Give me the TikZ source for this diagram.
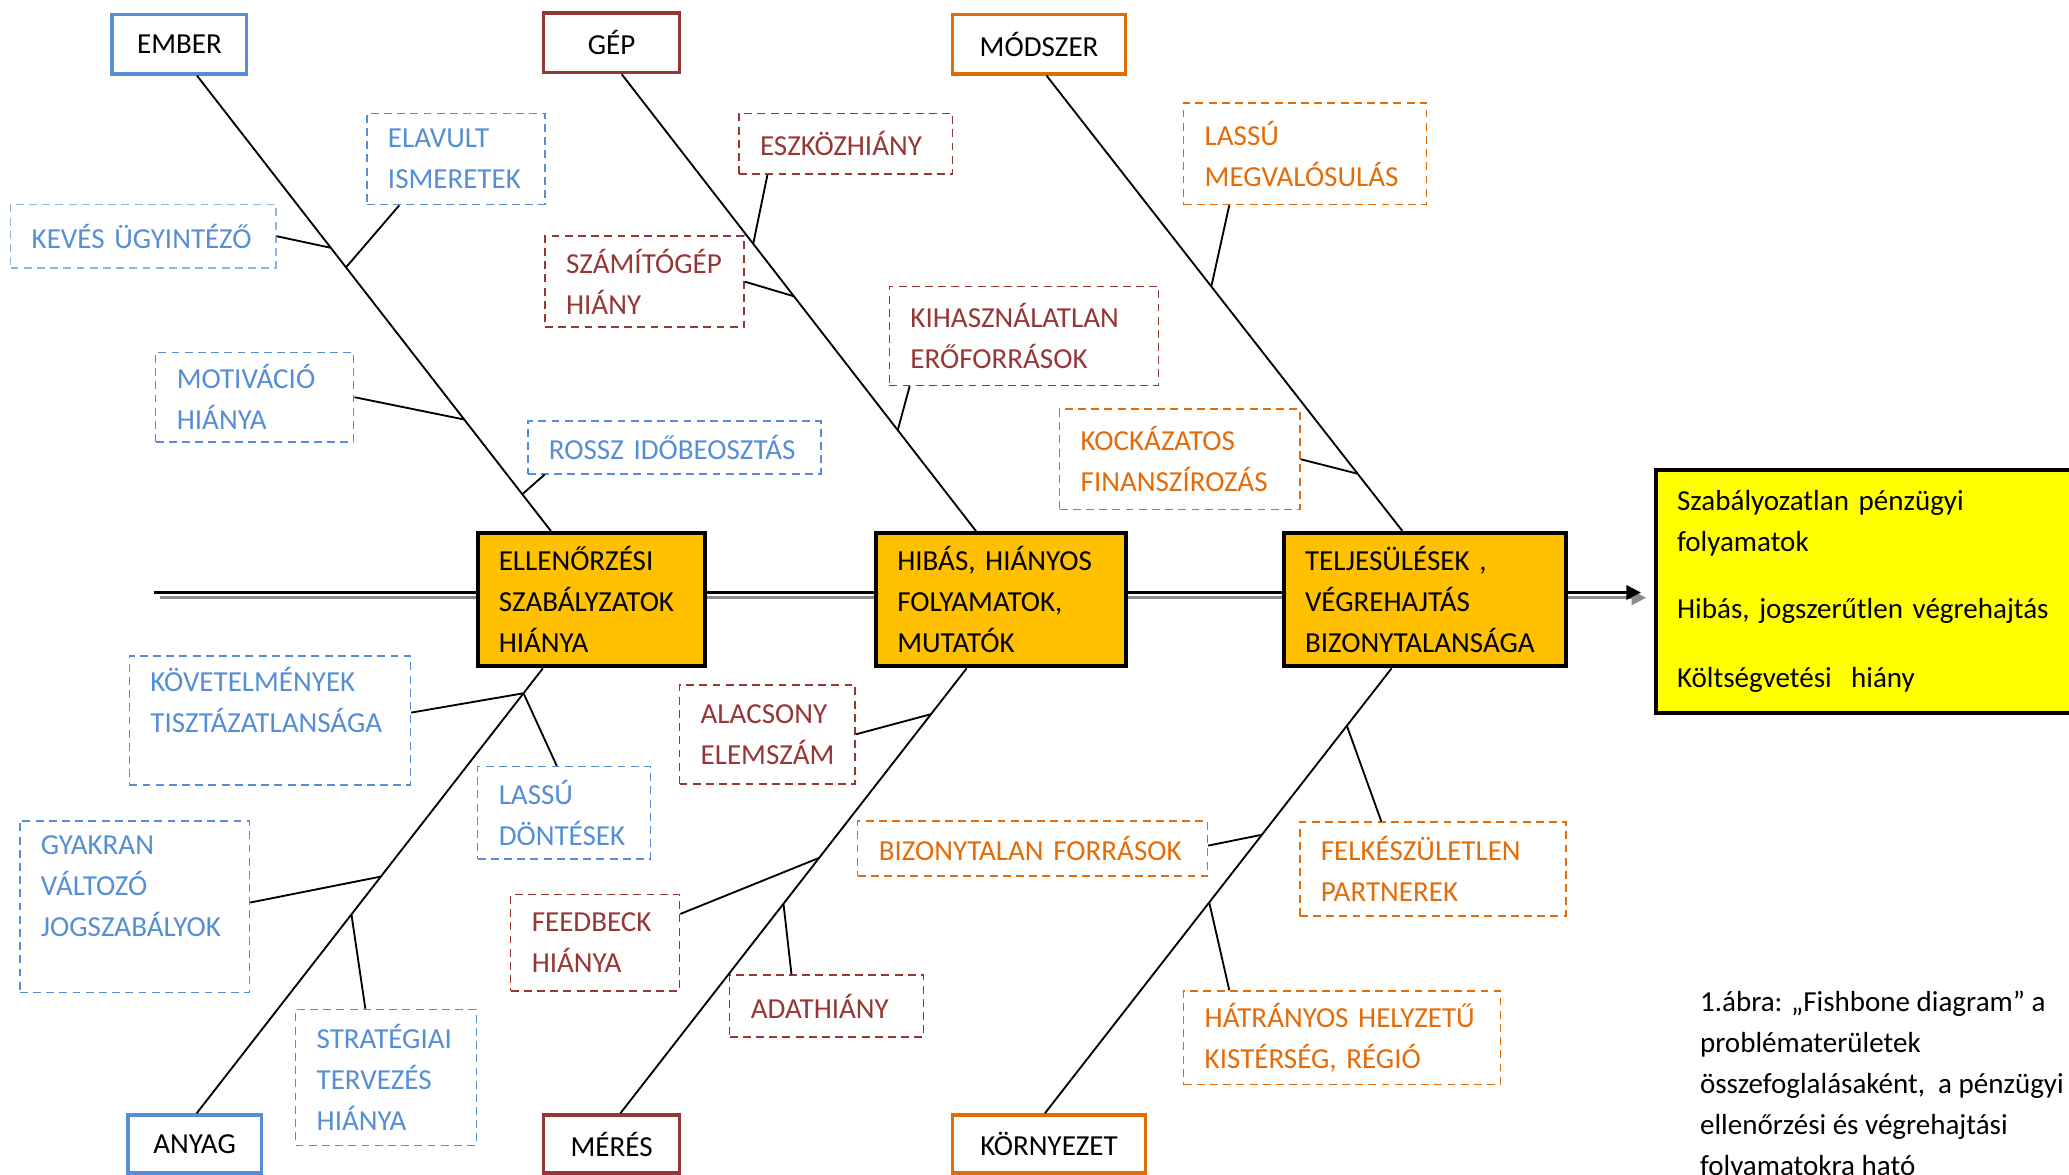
\documentclass[tikz,border=0pt]{standalone}
\usepackage{fontspec}
\setmainfont{Carlito}
\usetikzlibrary{calc,arrows.meta}
\definecolor{cblue}{HTML}{558ED5}
\definecolor{cblueL}{HTML}{8DB3E2}
\definecolor{cred}{HTML}{953735}
\definecolor{corange}{HTML}{E36C09}
\definecolor{cgold}{HTML}{FFC000}
\definecolor{cyell}{HTML}{FFFF00}
\definecolor{cgray}{HTML}{8C8C8C}
\newcommand\mkbox[7]{%
  \pgfmathsetmacro\mbW{(#5-#3)*0.5}%
  \pgfmathsetmacro\mbH{(#6-#4)*0.5}%
  \pgfmathsetmacro\mbT{(#5-#3)*0.5-16}%
  \node[#1, minimum width=\mbW pt, minimum height=\mbH pt, text width=\mbT pt] (#2) at ({(#3+#5)/2},{(#4+#6)/2}) {#7};%
}
\tikzset{
  every node/.style={font=\fontsize{11}{15.5}\selectfont, inner ysep=0pt, inner xsep=8pt, align=left},
  cat/.style={draw=#1, line width=1.3pt, align=center, fill=white},
  mainbox/.style={draw=black, line width=1.5pt, fill=cgold},
  sub/.style={draw=#1, text=#1, dash pattern=on 3pt off 2pt, line width=0.6pt},
  bone/.style={line width=0.7pt},
  spine/.style={line width=0.8pt, black},
  spineg/.style={line width=1pt, cgray},
}
\begin{document}
\begin{tikzpicture}[x=0.5pt, y=-0.5pt]
\useasboundingbox (0,0) rectangle (1568,890);
\clip (0,0) rectangle (1568,890);
% category boxes
\mkbox{cat=cblue}{ember}{85}{11}{187}{56}{EMBER}
\mkbox{cat=cred}{gep}{412}{10}{515}{55}{GÉP}
\mkbox{cat=corange}{modszer}{722}{11}{853}{56}{MÓDSZER}
\mkbox{cat=cblue}{anyag}{97}{845}{198}{889}{ANYAG}
\mkbox{cat=cred}{meres}{412}{845}{515}{889}{MÉRÉS}
\mkbox{cat=corange}{kornyezet}{722}{845}{868}{889}{KÖRNYEZET}
% main boxes
\mkbox{mainbox}{ell}{362}{404}{534}{505}{ELLENŐRZÉSI\\SZABÁLYZATOK\\HIÁNYA}
\mkbox{mainbox}{hib}{664}{404}{853}{505}{HIBÁS,~HIÁNYOS\\FOLYAMATOK,\\MUTATÓK}
\mkbox{mainbox}{telj}{973}{404}{1187}{505}{TELJESÜLÉSEK~,\\VÉGREHAJTÁS\\BIZONYTALANSÁGA}
\mkbox{mainbox, fill=cyell}{res}{1255}{356}{1590}{540}{Szabályozatlan~pénzügyi\\folyamatok\\[10pt]Hibás,~jogszerűtlen~végrehajtás\\[10.5pt]Költségvetési~~hiány}
% sub causes
\mkbox{sub=cblue}{elav}{278}{86}{413}{155}{ELAVULT\\ISMERETEK}
\mkbox{sub=cblue, draw=cblueL}{keves}{8}{155}{209}{203}{KEVÉS~ÜGYINTÉZŐ}
\mkbox{sub=cblue}{motiv}{118}{267}{268}{335}{MOTIVÁCIÓ\\HIÁNYA}
\mkbox{sub=cblue}{rossz}{400}{319}{622}{359}{ROSSZ~IDŐBEOSZTÁS}
\mkbox{sub=cred}{eszk}{560}{86}{722}{132}{ESZKÖZHIÁNY}
\mkbox{sub=cred}{szam}{413}{179}{564}{248}{SZÁMÍTÓGÉP\\HIÁNY}
\mkbox{sub=cred}{kihasz}{674}{217}{878}{292}{KIHASZNÁLATLAN\\ERŐFORRÁSOK}
\mkbox{sub=corange}{lassum}{897}{78}{1081}{155}{LASSÚ\\MEGVALÓSULÁS}
\mkbox{sub=corange}{kock}{803}{310}{985}{386}{KOCKÁZATOS\\FINANSZÍROZÁS}
\mkbox{sub=cblue}{kovet}{98}{497}{311}{595}{KÖVETELMÉNYEK\\TISZTÁZATLANSÁGA\\~}
\mkbox{sub=cblue}{lassud}{362}{581}{493}{651}{LASSÚ\\DÖNTÉSEK}
\mkbox{sub=cblue}{gyak}{15}{622}{189}{752}{GYAKRAN\\VÁLTOZÓ\\JOGSZABÁLYOK\\~}
\mkbox{sub=cblue}{strat}{224}{765}{361}{868}{STRATÉGIAI\\TERVEZÉS\\HIÁNYA}
\mkbox{sub=cred}{alacs}{515}{519}{648}{594}{ALACSONY\\ELEMSZÁM}
\mkbox{sub=cred}{feed}{387}{678}{515}{751}{FEEDBECK\\HIÁNYA}
\mkbox{sub=cred}{adat}{553}{739}{700}{786}{ADATHIÁNY}
\mkbox{sub=corange}{bizf}{650}{622}{915}{664}{BIZONYTALAN~FORRÁSOK}
\mkbox{sub=corange}{felk}{985}{623}{1187}{694}{FELKÉSZÜLETLEN\\PARTNEREK}
\mkbox{sub=corange}{hatr}{897}{751}{1137}{822}{HÁTRÁNYOS~HELYZETŰ\\KISTÉRSÉG,~RÉGIÓ}
% caption
\node[anchor=north west, inner sep=0pt] (cap) at (1288,751) {1.ábra: „Fishbone diagram” a\\problématerületek\\összefoglalásaként,~~a pénzügyi\\ellenőrzési és végrehajtási\\folyamatokra ható};
% spine
\coordinate (tail) at (117,449);
\coordinate (tailg) at (121,453);
\draw[spineg] (tailg) -- (tailg -| ell.west);
\draw[spine] (tail) -- (tail -| ell.west);
\draw[spineg] (tailg -| ell.east) -- (tailg -| hib.west);
\draw[spine] (tail -| ell.east) -- (tail -| hib.west);
\draw[spineg] (tailg -| hib.east) -- (tailg -| telj.west);
\draw[spine] (tail -| hib.east) -- (tail -| telj.west);
\draw[spineg, -{Triangle[length=5.5pt, width=5.5pt]}, shorten >=3pt] (tailg -| telj.east) -- (tailg -| res.west);
\draw[spine, -{Triangle[length=5.5pt, width=5.5pt]}, shorten >=5pt] (tail -| telj.east) -- (tail -| res.west);
% bones
\coordinate (b1s) at ($(ember.south west)!0.627!(ember.south east)$);
\coordinate (b1e) at ($(ell.north west)!0.326!(ell.north east)$);
\coordinate (b2s) at ($(gep.south west)!0.573!(gep.south east)$);
\coordinate (b2e) at ($(hib.north west)!0.402!(hib.north east)$);
\coordinate (b3s) at ($(modszer.south west)!0.542!(modszer.south east)$);
\coordinate (b3e) at ($(telj.north west)!0.421!(telj.north east)$);
\coordinate (b4s) at ($(anyag.north west)!0.515!(anyag.north east)$);
\coordinate (b4e) at ($(ell.south west)!0.291!(ell.south east)$);
\coordinate (b5s) at ($(meres.north west)!0.563!(meres.north east)$);
\coordinate (b5e) at ($(hib.south west)!0.365!(hib.south east)$);
\coordinate (b6s) at ($(kornyezet.north west)!0.479!(kornyezet.north east)$);
\coordinate (b6e) at ($(telj.south west)!0.383!(telj.south east)$);
\foreach \i in {1,...,6} {\draw[bone] (b\i s) -- (b\i e);}
% ember
\draw[bone] (keves.east) -- ($(b1s)!0.378!(b1e)$);
\draw[bone] ($(elav.south west)!0.185!(elav.south east)$) -- ($(b1s)!0.421!(b1e)$);
\draw[bone] (motiv.east) -- ($(b1s)!0.755!(b1e)$);
\draw[bone] ($(rossz.south west)!0.06!(rossz.south east)$) -- ($(b1s)!0.919!(b1e)$);
% gep
\draw[bone] ($(eszk.south west)!0.136!(eszk.south east)$) -- ($(b2s)!0.371!(b2e)$);
\draw[bone] (szam.east) -- ($(b2s)!0.486!(b2e)$);
\draw[bone] ($(kihasz.south west)!0.078!(kihasz.south east)$) -- ($(b2s)!0.779!(b2e)$);
% modszer
\draw[bone] ($(lassum.south west)!0.19!(lassum.south east)$) -- ($(b3s)!0.463!(b3e)$);
\draw[bone] (kock.east) -- ($(b3s)!0.874!(b3e)$);
% anyag
\coordinate (a1) at ($(b4s)!0.944!(b4e)$);
\draw[bone] ($(kovet.north east)!0.44!(kovet.south east)$) -- (a1);
\draw[bone] ($(lassud.north west)!0.458!(lassud.north east)$) -- (a1);
\draw[bone] ($(gyak.north east)!0.477!(gyak.south east)$) -- ($(b4s)!0.532!(b4e)$);
\draw[bone] ($(strat.north west)!0.387!(strat.north east)$) -- ($(b4s)!0.447!(b4e)$);
% meres
\draw[bone] (alacs.east) -- ($(b5s)!0.897!(b5e)$);
\draw[bone] ($(feed.north east)!0.205!(feed.south east)$) -- ($(b5s)!0.574!(b5e)$);
\draw[bone] ($(adat.north west)!0.32!(adat.north east)$) -- ($(b5s)!0.471!(b5e)$);
% kornyezet
\draw[bone] ($(bizf.north east)!0.45!(bizf.south east)$) -- ($(b6s)!0.626!(b6e)$);
\draw[bone] ($(felk.north west)!0.307!(felk.north east)$) -- ($(b6s)!0.871!(b6e)$);
\draw[bone] ($(hatr.north west)!0.146!(hatr.north east)$) -- ($(b6s)!0.474!(b6e)$);
\end{tikzpicture}
\end{document}
